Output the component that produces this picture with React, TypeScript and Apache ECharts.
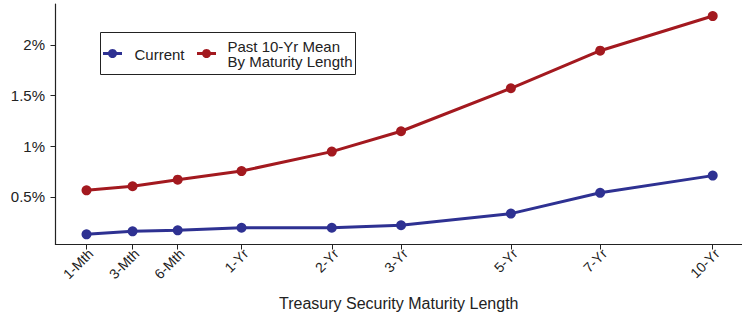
import React, { useEffect, useRef } from "react";
import * as echarts from "echarts";

const maturityLabels = ["1-Mth", "3-Mth", "6-Mth", "1-Yr", "2-Yr", "3-Yr", "5-Yr", "7-Yr", "10-Yr"];
const maturityMonths = [1, 3, 6, 12, 24, 36, 60, 84, 120];
const currentYield = [0.13, 0.16, 0.17, 0.195, 0.195, 0.22, 0.335, 0.54, 0.71];
const pastMeanYield = [0.565, 0.605, 0.67, 0.755, 0.947, 1.148, 1.572, 1.943, 2.285];
const yTickValues = [0.5, 1, 1.5, 2];
const yTickLabels = ["0.5%", "1%", "1.5%", "2%"];
const seriesNames = ["Current", "Past 10-Yr Mean\nBy Maturity Length"];

const FONT = "'Liberation Sans', Arial, sans-serif";
const BLUE = "#2E3192";
const RED = "#A3191F";
const INK = "#222222";

// square-root scale for maturity positions
const xPos = maturityMonths.map((m) => Math.sqrt(m));

export default function App() {
  const ref = useRef<HTMLDivElement>(null);
  useEffect(() => {
    if (!ref.current) return;
    const chart = echarts.init(ref.current, null, { renderer: "svg" });
    const nearestLabel = (v: number) => {
      let best = 0;
      for (let i = 0; i < xPos.length; i++) {
        if (Math.abs(xPos[i] - v) < Math.abs(xPos[best] - v)) best = i;
      }
      return maturityLabels[best];
    };
    const nearestY = (v: number) => {
      let best = 0;
      for (let i = 0; i < yTickValues.length; i++) {
        if (Math.abs(yTickValues[i] - v) < Math.abs(yTickValues[best] - v)) best = i;
      }
      return yTickLabels[best];
    };
    chart.setOption({
      animation: false,
      backgroundColor: "#ffffff",
      grid: { left: 55.5, right: 0, top: 4, bottom: 70.5, containLabel: false },
      xAxis: {
        type: "value",
        min: 0.507,
        max: 11.42,
        name: "Treasury Security Maturity Length",
        nameLocation: "middle",
        nameGap: 50.5,
        nameTextStyle: { fontFamily: FONT, fontSize: 16, color: INK },
        axisLine: { show: true, lineStyle: { color: INK, width: 1.2 } },
        axisTick: { show: true, length: 5, customValues: xPos, lineStyle: { color: INK, width: 1 } },
        axisLabel: {
          customValues: xPos,
          rotate: 45,
          margin: 11,
          padding: [0, -6, 0, 0],
          fontFamily: FONT,
          fontSize: 14,
          color: INK,
          formatter: (v: number) => nearestLabel(v),
        },
        splitLine: { show: false },
      },
      yAxis: {
        type: "value",
        min: 0.03,
        max: 2.404,
        axisLine: { show: true, lineStyle: { color: INK, width: 1.2 } },
        axisTick: { show: true, length: 5, customValues: yTickValues, lineStyle: { color: INK, width: 1 } },
        axisLabel: {
          customValues: yTickValues,
          margin: 10.5,
          fontFamily: FONT,
          fontSize: 15,
          color: INK,
          formatter: (v: number) => nearestY(v),
        },
        splitLine: { show: false },
      },
      series: [
        {
          name: seriesNames[0],
          type: "line",
          data: xPos.map((x, i) => [x, currentYield[i]]),
          symbol: "circle",
          symbolSize: 10,
          lineStyle: { color: BLUE, width: 3 },
          itemStyle: { color: BLUE },
        },
        {
          name: seriesNames[1],
          type: "line",
          data: xPos.map((x, i) => [x, pastMeanYield[i]]),
          symbol: "circle",
          symbolSize: 10,
          lineStyle: { color: RED, width: 3 },
          itemStyle: { color: RED },
        },
      ],
      graphic: [
        {
          type: "rect",
          shape: { x: 100.5, y: 32.5, width: 255, height: 42 },
          style: { fill: "#ffffff", stroke: INK, lineWidth: 1 },
          z: 100,
        },
        { type: "line", shape: { x1: 103, y1: 53.5, x2: 122, y2: 53.5 }, style: { stroke: BLUE, lineWidth: 3 }, z: 101 },
        { type: "circle", shape: { cx: 112.5, cy: 53.5, r: 4.5 }, style: { fill: BLUE }, z: 101 },
        {
          type: "text",
          x: 134.5,
          y: 54.5,
          style: { text: seriesNames[0], font: `15px ${FONT}`, fill: INK, verticalAlign: "middle", align: "left" },
          z: 101,
        },
        { type: "line", shape: { x1: 197, y1: 53.5, x2: 216, y2: 53.5 }, style: { stroke: RED, lineWidth: 3 }, z: 101 },
        { type: "circle", shape: { cx: 206.5, cy: 53.5, r: 4.5 }, style: { fill: RED }, z: 101 },
        {
          type: "text",
          x: 227.5,
          y: 54,
          style: {
            text: seriesNames[1],
            font: `15px ${FONT}`,
            fill: INK,
            verticalAlign: "middle",
            align: "left",
            lineHeight: 15.5,
          },
          z: 101,
        },
      ],
    });
    return () => chart.dispose();
  }, []);
  return <div ref={ref} style={{ position: "fixed", left: 0, top: 0, width: 742, height: 316 }} />;
}
